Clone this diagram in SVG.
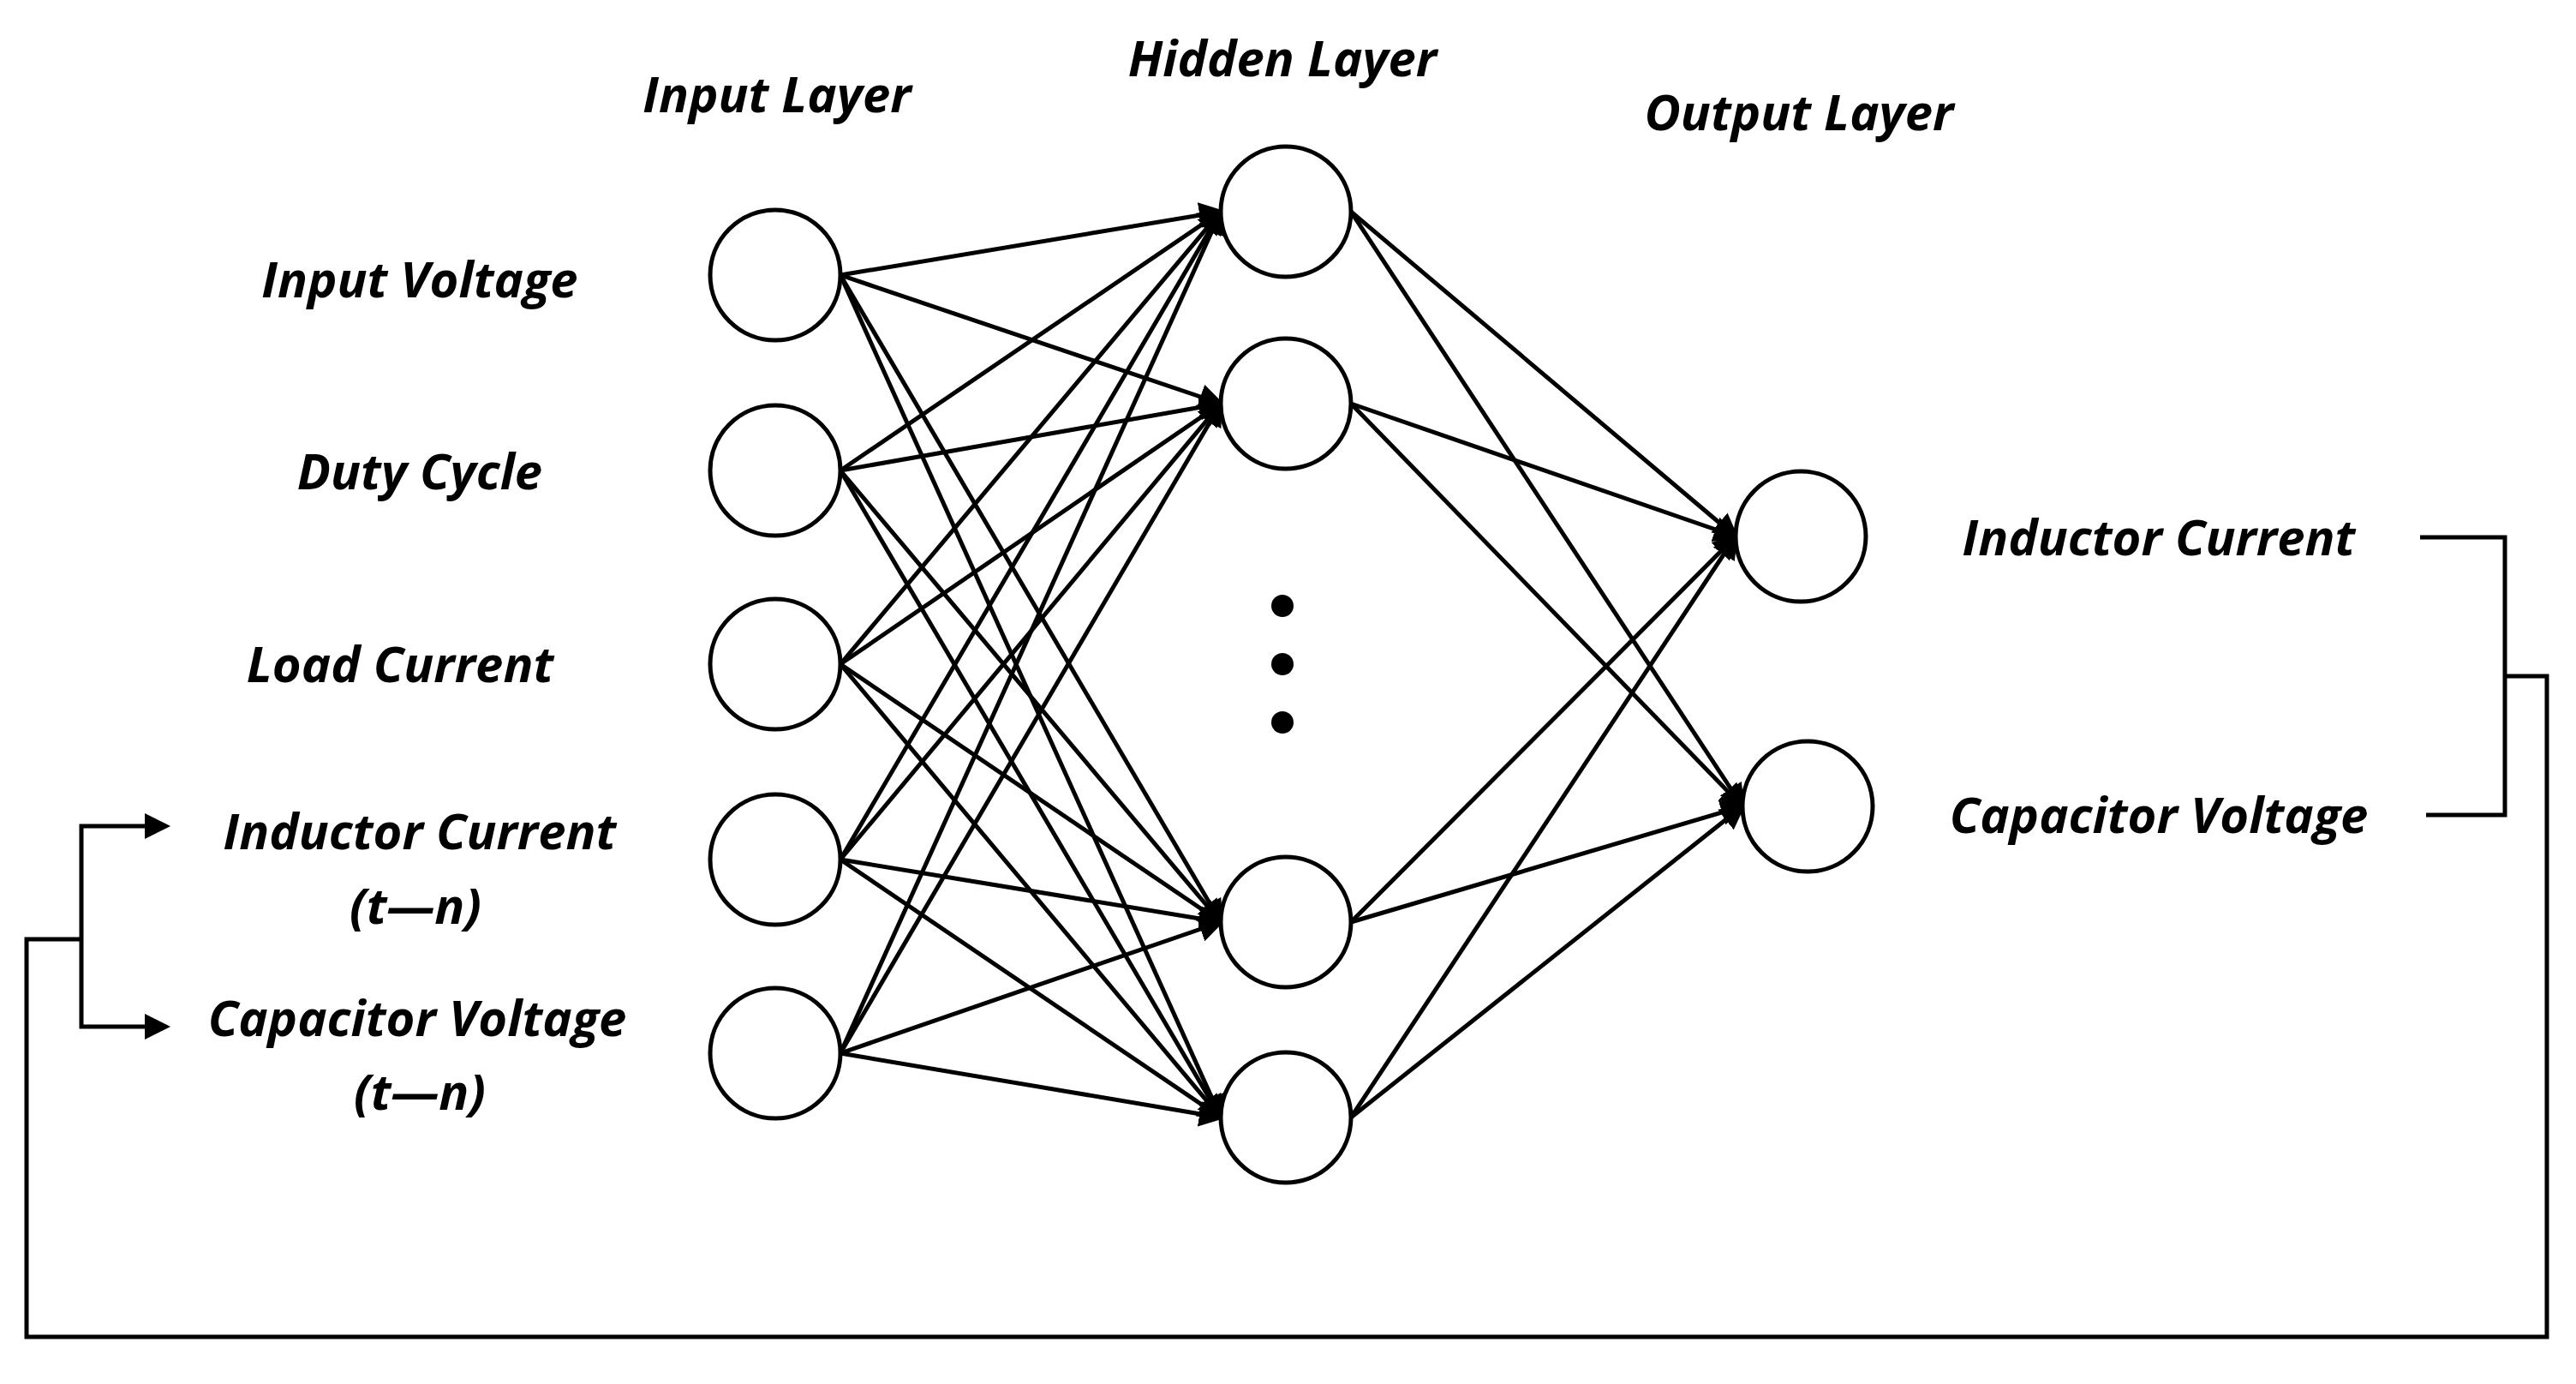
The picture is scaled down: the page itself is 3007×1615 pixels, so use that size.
<svg xmlns="http://www.w3.org/2000/svg" width="3007" height="1615" viewBox="0 0 3007 1615">
<style>
.n{fill:#fff;stroke:#000;stroke-width:5}
.e{stroke:#000;stroke-width:5;fill:none}
.t{font-family:"Open Sans","Liberation Sans",sans-serif;font-weight:bold;font-style:italic;font-size:58px;fill:#000;text-anchor:middle}
</style>
<defs><marker id="a" markerWidth="6" markerHeight="6" refX="5" refY="3" orient="auto" markerUnits="strokeWidth"><path d="M0,0 L6,3 L0,6 z" fill="#000"/></marker></defs>
<rect width="3007" height="1615" fill="#fff"/>
<g id="connectors">
<g class="e" marker-end="url(#a)">
<path d="M981,321L1425,247"/><path d="M981,321L1425,471"/><path d="M981,321L1425,1076"/><path d="M981,321L1425,1304"/>
<path d="M981,549L1425,247"/><path d="M981,549L1425,471"/><path d="M981,549L1425,1076"/><path d="M981,549L1425,1304"/>
<path d="M981,775L1425,247"/><path d="M981,775L1425,471"/><path d="M981,775L1425,1076"/><path d="M981,775L1425,1304"/>
<path d="M981,1003L1425,247"/><path d="M981,1003L1425,471"/><path d="M981,1003L1425,1076"/><path d="M981,1003L1425,1304"/>
<path d="M981,1229L1425,247"/><path d="M981,1229L1425,471"/><path d="M981,1229L1425,1076"/><path d="M981,1229L1425,1304"/>
<path d="M1577,247L2026,626"/><path d="M1577,247L2034,941"/>
<path d="M1577,471L2026,626"/><path d="M1577,471L2034,941"/>
<path d="M1577,1076L2026,626"/><path d="M1577,1076L2034,941"/>
<path d="M1577,1304L2026,626"/><path d="M1577,1304L2034,941"/>
<path d="M95,1096V964H194"/><path d="M95,1096V1198H194"/>
</g>
<path class="e" d="M2825,627H2924V951H2832M2924,789H2973V1560H31V1096H95"/>
</g>
<g id="in1"><circle class="n" cx="905" cy="321" r="76"/></g>
<g id="in2"><circle class="n" cx="905" cy="549" r="76"/></g>
<g id="in3"><circle class="n" cx="905" cy="775" r="76"/></g>
<g id="in4"><circle class="n" cx="905" cy="1003" r="76"/></g>
<g id="in5"><circle class="n" cx="905" cy="1229" r="76"/></g>
<g id="h1"><circle class="n" cx="1501" cy="247" r="76"/></g>
<g id="h2"><circle class="n" cx="1501" cy="471" r="76"/></g>
<g id="h3"><circle class="n" cx="1501" cy="1076" r="76"/></g>
<g id="h4"><circle class="n" cx="1501" cy="1304" r="76"/></g>
<g id="dots"><circle cx="1497" cy="707" r="13"/><circle cx="1497" cy="775" r="13"/><circle cx="1497" cy="843" r="13"/></g>
<g id="o1"><circle class="n" cx="2102" cy="626" r="76"/></g>
<g id="o2"><circle class="n" cx="2110" cy="941" r="76"/></g>
<g id="labels">
<text class="t" x="907" y="131">Input Layer</text>
<text class="t" x="1497" y="89">Hidden Layer</text>
<text class="t" x="2100" y="152">Output Layer</text>
<text class="t" x="490" y="347">Input Voltage</text>
<text class="t" x="490" y="571">Duty Cycle</text>
<text class="t" x="467" y="796">Load Current</text>
<text class="t" x="490" y="991">Inductor Current</text>
<text class="t" x="485" y="1078">(t—n)</text>
<text class="t" x="487" y="1209">Capacitor Voltage</text>
<text class="t" x="490" y="1295">(t—n)</text>
<text class="t" x="2520" y="648">Inductor Current</text>
<text class="t" x="2520" y="972">Capacitor Voltage</text>
</g>
</svg>
